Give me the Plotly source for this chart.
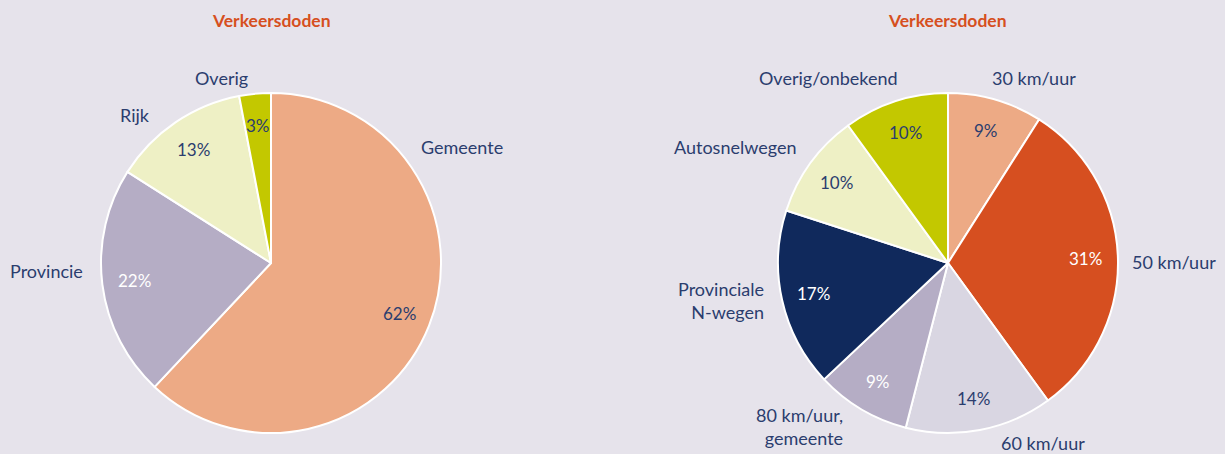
import math
import plotly.graph_objects as go

# ---- data ----
title_left = "Verkeersdoden"
cats_left = ["Gemeente", "Provincie", "Rijk", "Overig"]
vals_left = [62, 22, 13, 3]

title_right = "Verkeersdoden"
cats_right = ["30 km/uur", "50 km/uur", "60 km/uur", "80 km/uur,<br>gemeente",
              "Provinciale<br>N-wegen", "Autosnelwegen", "Overig/onbekend"]
vals_right = [9, 31, 14, 9, 17, 10, 10]

# ---- style ----
W, H = 1225, 454
BG = "#E6E3EB"
NAVY = "#2B3D6E"
ORANGE = "#D64F20"
FONT = "Lato"

cols_left = ["#EDAA85", "#B5ADC5", "#EEF0C5", "#C3C800"]
pct_cols_left = [NAVY, "#FFFFFF", NAVY, NAVY]
cols_right = ["#EDAA85", "#D64F20", "#D9D6E2", "#B5ADC5", "#10295C", "#EEF0C5", "#C3C800"]
pct_cols_right = [NAVY, "#FFFFFF", NAVY, "#FFFFFF", "#FFFFFF", NAVY, NAVY]

# pie geometry in pixels (centre x, centre y, radius)
geo_left = (271, 263, 170)
geo_right = (948, 263, 170)

# label anchor positions (pixels) and alignment
lab_left = [(462, 147, "center"), (46, 271, "center"), (135, 115, "center"), (221, 78, "center")]
lab_right = [(1034, 78, "center"), (1174, 262, "center"), (1043, 443, "center"),
             (845, 426, "right"), (766, 300, "right"), (735, 147, "center"), (828, 78, "center")]

fig = go.Figure()
annotations = []


def px(x):
    return x / W


def py(y):
    return 1 - y / H


def add_pie(cats, vals, cols, pct_cols, geo, labs, title):
    cx, cy, r = geo
    fig.add_trace(go.Pie(
        labels=[c.replace("<br>", " ") for c in cats], values=vals,
        sort=False, direction="clockwise", rotation=0,
        marker=dict(colors=cols, line=dict(color="white", width=2)),
        textinfo="none", hoverinfo="label+percent", showlegend=False,
        domain=dict(x=[px(cx - r), px(cx + r)], y=[py(cy + r), py(cy - r)]),
    ))
    total = sum(vals)
    cum = 0
    for v, c, pc, (lx, ly, al) in zip(vals, cats, pct_cols, labs):
        mid = (cum + v / 2) / total * 2 * math.pi
        cum += v
        tx = cx + 0.81 * r * math.sin(mid)
        ty = cy - 0.81 * r * math.cos(mid)
        annotations.append(dict(x=px(tx), y=py(ty), xref="paper", yref="paper",
                                text=f"{v}%", showarrow=False,
                                xanchor="center", yanchor="middle",
                                font=dict(family=FONT, size=17, color=pc)))
        annotations.append(dict(x=px(lx), y=py(ly), xref="paper", yref="paper",
                                text=c, showarrow=False, xanchor=al, yanchor="middle",
                                align=al,
                                font=dict(family=FONT, size=18, color=NAVY)))
    annotations.append(dict(x=px(cx), y=py(20), xref="paper", yref="paper",
                            text=f"<b>{title}</b>", showarrow=False,
                            xanchor="center", yanchor="middle",
                            font=dict(family=FONT, size=17.5, color=ORANGE)))


add_pie(cats_left, vals_left, cols_left, pct_cols_left, geo_left, lab_left, title_left)
add_pie(cats_right, vals_right, cols_right, pct_cols_right, geo_right, lab_right, title_right)

fig.update_layout(
    width=W, height=H,
    margin=dict(l=0, r=0, t=0, b=0),
    paper_bgcolor=BG, plot_bgcolor=BG,
    annotations=annotations,
)

fig.write_html(
    "out.html",
    config={"displayModeBar": False},
    post_script="document.body.style.margin='0';document.body.style.padding='0';"
                "document.body.style.background='" + BG + "';",
)
